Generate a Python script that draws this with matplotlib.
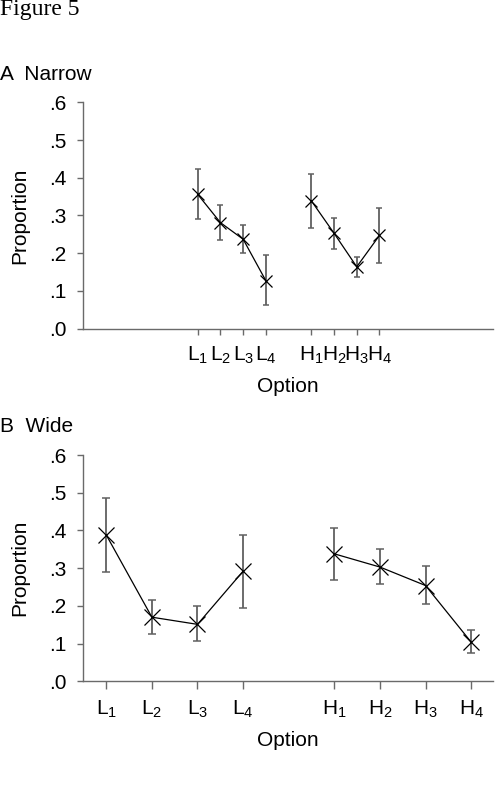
import numpy as np
import matplotlib
matplotlib.use("Agg")
import matplotlib.pyplot as plt

plt.rcParams['font.family'] = ['Liberation Sans', 'DejaVu Sans']
plt.rcParams['mathtext.fontset'] = 'custom'
plt.rcParams['mathtext.rm'] = 'Liberation Sans'
plt.rcParams['mathtext.it'] = 'Liberation Sans'
plt.rcParams['mathtext.default'] = 'rm'

# Data
options = ['L$_1$', 'L$_2$', 'L$_3$', 'L$_4$', 'H$_1$', 'H$_2$', 'H$_3$', 'H$_4$']

narrow_mean = [0.356, 0.281, 0.237, 0.127, 0.339, 0.253, 0.164, 0.247]
narrow_low = [0.290, 0.236, 0.201, 0.062, 0.266, 0.212, 0.136, 0.174]
narrow_high = [0.423, 0.327, 0.274, 0.194, 0.410, 0.294, 0.191, 0.321]

wide_mean = [0.388, 0.170, 0.151, 0.292, 0.338, 0.303, 0.254, 0.104]
wide_low = [0.289, 0.125, 0.107, 0.195, 0.268, 0.257, 0.205, 0.074]
wide_high = [0.485, 0.216, 0.199, 0.387, 0.407, 0.352, 0.305, 0.135]

yticks = [0, 0.1, 0.2, 0.3, 0.4, 0.5, 0.6]
ytick_labels = ['.0', '.1', '.2', '.3', '.4', '.5', '.6']

# L options at 1..4, H options at 6..9 (one slot gap between groups)
xpos = np.r_[np.arange(1, 5), np.arange(6, 10)]

axis_grey = '#6a6a6a'
fs = 15


def panel(ax, mean, low, high, xlim, msize, cap, xtick_len):
    mean = np.array(mean)
    err = [mean - np.array(low), np.array(high) - mean]
    ax.errorbar(xpos, mean, yerr=err, fmt='none', ecolor='#606060',
                elinewidth=1.3, capsize=cap, capthick=1.1, zorder=2)
    for grp in (slice(0, 4), slice(4, 8)):
        ax.plot(xpos[grp], mean[grp], color='black', linewidth=0.9,
                marker='x', markersize=msize, markeredgewidth=0.9, zorder=3)
    ax.set_xlim(*xlim)
    ax.set_ylim(0, 0.6)
    ax.set_yticks(yticks)
    ax.set_yticklabels(ytick_labels, fontsize=fs)
    ax.set_xticks(xpos)
    ax.set_xticklabels(options, fontsize=fs)
    ax.spines['top'].set_visible(False)
    ax.spines['right'].set_visible(False)
    for s in ('left', 'bottom'):
        ax.spines[s].set_color(axis_grey)
        ax.spines[s].set_linewidth(1.0)
    ax.tick_params(axis='x', length=xtick_len, width=1.0, color=axis_grey, pad=7)
    ax.tick_params(axis='y', length=4, width=1.0, color=axis_grey, pad=8)
    ax.set_xlabel('Option', fontsize=fs, labelpad=8)
    ax.set_ylabel('Proportion', fontsize=fs, labelpad=14)


fig = plt.figure(figsize=(4.98, 7.90), dpi=100)
ax_a = fig.add_axes([0.1667, 0.584, 0.8233, 0.2865])
ax_b = fig.add_axes([0.1667, 0.1376, 0.8233, 0.2864])

panel(ax_a, narrow_mean, narrow_low, narrow_high, (-4.05, 14.0), 9, 2.2, 4.5)
panel(ax_b, wide_mean, wide_low, wide_high, (0.49, 9.48), 12, 2.6, 5.5)

fig.text(0.0, 1 - 15 / 790, 'Figure 5', fontsize=17, family='Liberation Serif',
         va='baseline', ha='left')
fig.text(0.0, 1 - 80 / 790, 'A  Narrow', fontsize=15, va='baseline', ha='left')
fig.text(0.0, 1 - 432 / 790, 'B  Wide', fontsize=15, va='baseline', ha='left')

fig.savefig('out.png', dpi=100)
